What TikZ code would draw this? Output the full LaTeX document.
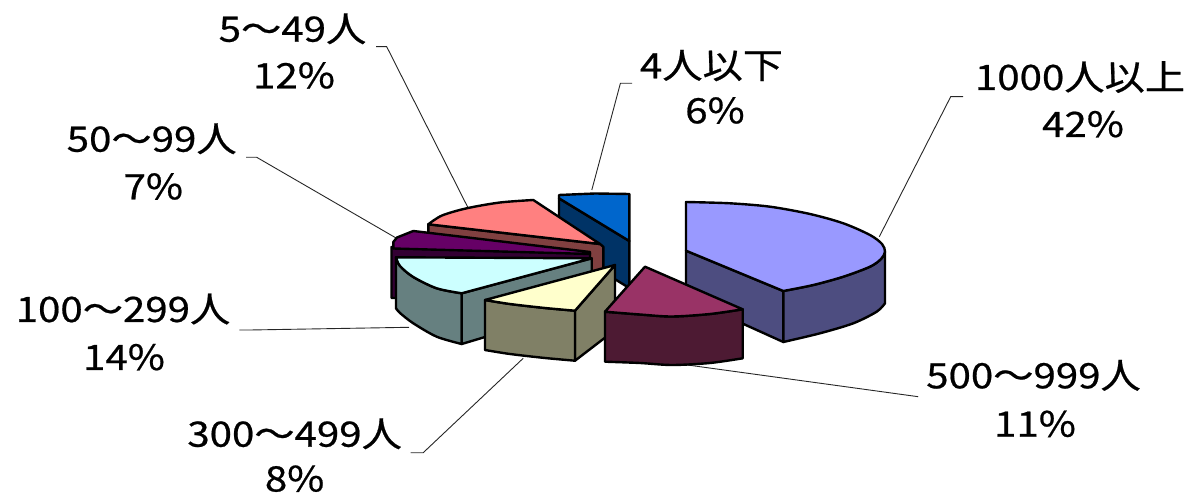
\documentclass[tikz,border=0pt]{standalone}
\usepackage{fontspec}
\newfontfamily\jp[FakeStretch=1.15,FakeBold=0.6]{Noto Sans CJK JP}
\definecolor{bigTop}{HTML}{9999FF}
\definecolor{bigSide}{HTML}{4D4D80}
\definecolor{marTop}{HTML}{993366}
\definecolor{marSide}{HTML}{4D1A33}
\definecolor{yelTop}{HTML}{FFFFCC}
\definecolor{yelSide}{HTML}{808066}
\definecolor{cyaTop}{HTML}{CCFFFF}
\definecolor{cyaSide}{HTML}{668080}
\definecolor{purTop}{HTML}{660066}
\definecolor{purSide}{HTML}{330033}
\definecolor{salTop}{HTML}{FF8080}
\definecolor{salSide}{HTML}{804040}
\definecolor{bluTop}{HTML}{0066CC}
\definecolor{bluSide}{HTML}{003366}
\begin{document}
\begin{tikzpicture}[x=1pt,y=-1pt,
  face/.style={draw=black,line width=2.4pt,line join=round},
  leader/.style={draw=black!85,line width=0.9pt},
  lbl/.style={font=\jp\fontsize{35}{42}\selectfont,inner sep=0pt,anchor=base}]
\useasboundingbox (0,0) rectangle (1192,494);
% labels
\node[lbl] (a1) at (1080,90) {1000人以上};
\node[lbl] (a2) at (1083,137) {42\%};
\node[lbl] (b1) at (711.5,78.3) {4人以下};
\node[lbl] (b2) at (715,123.3) {6\%};
\node[lbl] (c1) at (292.5,41.7) {5～49人};
\node[lbl] (c2) at (294,88.3) {12\%};
\node[lbl] (d1) at (151.7,151.7) {50～99人};
\node[lbl] (d2) at (153.3,199.3) {7\%};
\node[lbl] (e1) at (123,322) {100～299人};
\node[lbl] (e2) at (124,370) {14\%};
\node[lbl] (f1) at (294.6,446.7) {300～499人};
\node[lbl] (f2) at (294.6,491.5) {8\%};
\node[lbl] (g1) at (1033.5,388.3) {500～999人};
\node[lbl] (g2) at (1035,436.7) {11\%};
% leader coordinates
\coordinate (as) at (879.3,236.7); \coordinate (ae) at (950.7,96.7); \coordinate (at) at (963.2,96.7);
\coordinate (bs) at (591.8,190);   \coordinate (be) at (620.4,83.3); \coordinate (bt) at (632.1,83.3);
\coordinate (cs) at (468.3,208.3); \coordinate (ce) at (386.7,46.7); \coordinate (ct) at (376,46.7);
\coordinate (ds) at (398.3,239.3); \coordinate (de) at (256.7,157.3); \coordinate (dt) at (246,157.3);
\coordinate (es) at (409,327.3);   \coordinate (ee) at (250,330);    \coordinate (et) at (239.3,330);
\coordinate (fs) at (523.2,358.3); \coordinate (fe) at (423.2,452.7); \coordinate (ft) at (410.7,452.7);
\coordinate (gs) at (675.2,363.3); \coordinate (ge) at (918.2,396.7);
\draw[leader] (as) -- (ae) -- (at);
\draw[leader] (bs) -- (be) -- (bt);
\draw[leader] (cs) -- (ce) -- (ct);
\draw[leader] (ds) -- (de) -- (dt);
\draw[leader] (es) -- (ee) -- (et);
\draw[leader] (fs) -- (fe) -- (ft);
\draw[leader] (gs) -- (ge);
% 4人以下 (blue)
\filldraw[face,fill=bluSide] (559,198.3) -- (629.3,241) -- (629.3,288) -- (559,245) -- cycle;
\filldraw[face,fill=bluTop] (559,195) -- (595,193.5) -- (629.3,194) -- (629.3,241) -- (559,198.3) -- cycle;
% 5-49 (salmon)
\filldraw[face,fill=salSide] (428.3,224.3) -- (600,244) -- (603.3,246.7) -- (603.3,275) -- (428.3,262) -- cycle;
\filldraw[face,fill=salTop] (600,244) -- (533.3,200) -- plot[smooth] coordinates {(533.3,200) (500,202.5) (466.7,208.3) (442,215.5) (428.3,224.3)} -- cycle;
% 50-99 (purple)
\filldraw[face,fill=purSide] (391.5,247) -- (590,253) -- (590,262) -- (420,262) -- (420,298) -- (391.5,298) -- cycle;
\filldraw[face,fill=purTop] (413.3,231) -- (590,252) -- (590,254) -- (393.3,248.5) -- (393.3,242) -- (397,237.5) -- cycle;
% 1000以上 (big)
\filldraw[face,fill=bigSide] (686,250.7) -- (783.3,291) -- (783.3,342) -- (686,298) -- cycle;
\filldraw[face,fill=bigSide] plot[smooth] coordinates {(783.3,291) (813.3,285) (843.3,276.7) (870,266.7) (881,259) (885,251.7)} -- (885,303.3) -- plot[smooth] coordinates {(885,303.3) (876.7,311.7) (853.3,323.3) (820,333.3) (783.3,342)} -- cycle;
\filldraw[face,fill=bigTop] (686,202) -- plot[smooth] coordinates {(686,202) (730,203.3) (770,206.7) (810,214) (843.3,223.3) (870,235) (882,244) (885,251.7) (881,259) (870,266.7) (843.3,276.7) (813.3,285) (783.3,291)} -- (686,250.7) -- cycle;
% 100-299 (cyan)
\filldraw[face,fill=cyaSide] plot[smooth] coordinates {(396,257.3) (400,266) (413.3,277) (436.7,288.3) (461.7,293.3)} -- (461.7,344) -- plot[smooth] coordinates {(461.7,344) (436.7,336.7) (413.3,323.3) (400,313) (396,308.3)} -- cycle;
\filldraw[face,fill=cyaSide] (461.7,293.3) -- (591.7,258.3) -- (591.7,305) -- (461.7,344) -- cycle;
\filldraw[face,fill=cyaTop] (461.7,293.3) -- (591.7,258.3) -- (396,257.3) -- plot[smooth] coordinates {(396,257.3) (400,266) (413.3,277) (436.7,288.3) (461.7,293.3)} -- cycle;
% 300-499 (yellow)
\filldraw[face,fill=yelSide] (575,310.7) -- (615,265) -- (615,330) -- (575,360.7) -- cycle;
\filldraw[face,fill=yelSide] plot[smooth] coordinates {(485,300) (510,304) (545,308) (575,310.7)} -- (575,360.7) -- plot[smooth] coordinates {(575,360.7) (545,358) (510,354) (485,350)} -- cycle;
\filldraw[face,fill=yelTop] (615,265) -- (485,300) -- plot[smooth] coordinates {(485,300) (510,304) (545,308) (575,310.7)} -- cycle;
% 500-999 (maroon)
\filldraw[face,fill=marSide] plot[smooth] coordinates {(605,311.7) (640,314.5) (672,316.5) (710,314) (742.7,309.3)} -- (742.7,358.3) -- plot[smooth] coordinates {(742.7,358.3) (710,363) (672,365) (640,363) (605,361.7)} -- cycle;
\filldraw[face,fill=marTop] (645,266.7) -- (742.7,309.3) -- plot[smooth] coordinates {(742.7,309.3) (710,314) (672,316.5) (640,314.5) (605,311.7)} -- cycle;
\end{tikzpicture}
\end{document}
